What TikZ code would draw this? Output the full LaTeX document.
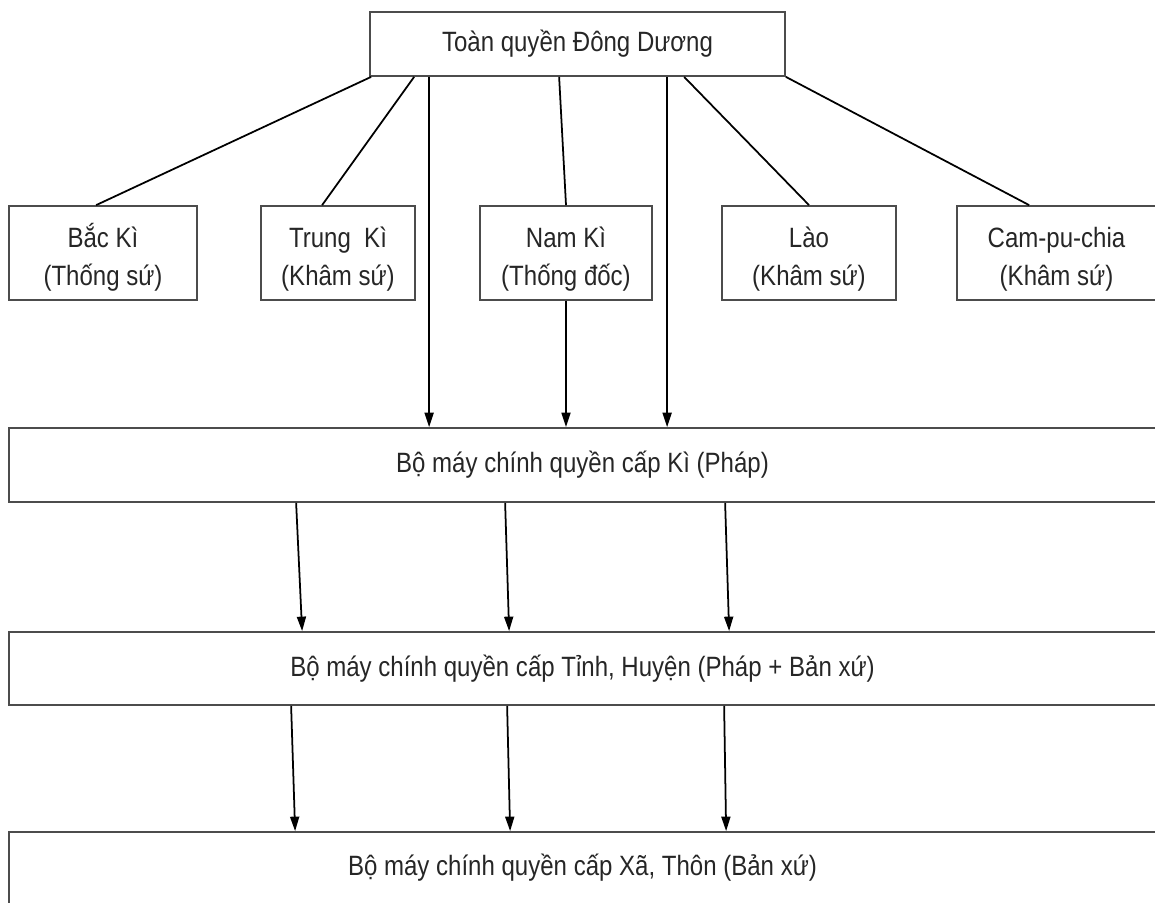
\documentclass[tikz,border=0pt]{standalone}
\usepackage{fontspec}
\setmainfont{Liberation Sans}[FakeStretch=0.86]
\usetikzlibrary{arrows.meta}

\tikzset{
    khung/.style={draw=black!70, line width=1pt, inner sep=0pt, align=center,
        text=black!85, font=\fontsize{15.9}{21.6}\selectfont},
    noi/.style={line width=1pt},
    mui/.style={line width=1pt, -{Triangle[length=0.29cm, width=0.18cm]}}
}
% dong dau cua o hai dong
\newcommand{\dau}{\rule{0pt}{19pt}}

\begin{document}
\begin{tikzpicture}
    \useasboundingbox (0,0) rectangle (23.1,-18.04);

    % Toan quyen
    \node[khung, minimum width=8.3cm, minimum height=1.28cm] (tq) at (11.55,-0.88) {Toàn quyền Đông Dương};

    % Cac xu
    \node[khung, minimum width=3.76cm, minimum height=1.88cm] (bk) at (2.06,-5.06) {\dau Bắc Kì\\(Thống sứ)};
    \node[khung, minimum width=3.08cm, minimum height=1.88cm] (trk) at (6.76,-5.06) {\dau Trung\ \ Kì\\(Khâm sứ)};
    \node[khung, minimum width=3.44cm, minimum height=1.88cm] (nk) at (11.32,-5.06) {\dau Nam Kì\\(Thống đốc)};
    \node[khung, minimum width=3.48cm, minimum height=1.88cm] (lao) at (16.18,-5.06) {\dau Lào\\(Khâm sứ)};
    \node[khung, minimum width=3.98cm, minimum height=1.88cm] (cam) at (21.13,-5.06) {\dau Cam-pu-chia\\(Khâm sứ)};

    % Cac cap chinh quyen
    \node[khung, minimum width=22.94cm, minimum height=1.48cm] (ki) at (11.65,-9.30) {Bộ máy chính quyền cấp Kì (Pháp)};
    \node[khung, minimum width=22.94cm, minimum height=1.46cm] (tinh) at (11.65,-13.37) {Bộ máy chính quyền cấp Tỉnh, Huyện (Pháp + Bản xứ)};
    \node[khung, minimum width=22.94cm, minimum height=1.44cm] (xa) at (11.65,-17.36) {Bộ máy chính quyền cấp Xã, Thôn (Bản xứ)};

    % Toan quyen -> cac xu
    \draw[noi] ([xshift=0.04cm]tq.south west) -- ([xshift=1.76cm]bk.north west);
    \draw[noi] ([xshift=0.9cm]tq.south west) -- ([xshift=1.24cm]trk.north west);
    \draw[noi] ([xshift=3.8cm]tq.south west) -- (nk.north);
    \draw[noi] ([xshift=6.3cm]tq.south west) -- (lao.north);
    \draw[noi] (tq.south east) -- ([xshift=1.46cm]cam.north west);

    % Toan quyen -> cap Ki
    \draw[mui] ([xshift=1.2cm]tq.south west) -- ([xshift=1.2cm]tq.south west |- ki.north);
    \draw[mui] ([xshift=5.96cm]tq.south west) -- ([xshift=5.96cm]tq.south west |- ki.north);
    \draw[mui] (nk.south) -- (nk.south |- ki.north);

    % Ki -> Tinh -> Xa
    \foreach \a/\b in {5.76/5.88, 9.94/10.02, 14.34/14.42}
        \draw[mui] ([xshift=\a cm]ki.south west) -- ([xshift=\b cm]tinh.north west);
    \foreach \a/\b in {5.66/5.74, 9.98/10.04, 14.32/14.36}
        \draw[mui] ([xshift=\a cm]tinh.south west) -- ([xshift=\b cm]xa.north west);
\end{tikzpicture}
\end{document}
